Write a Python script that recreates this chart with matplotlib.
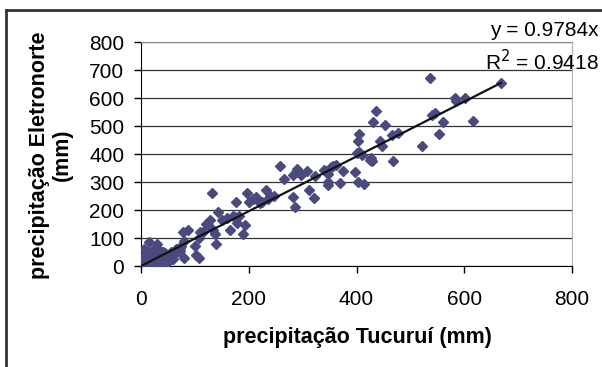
import matplotlib.pyplot as plt
from matplotlib.lines import Line2D
import numpy as np

# Tucurui (x) vs Eletronorte (y) precipitation, mm
tucurui = [
    537, 668, 583, 585, 601, 617, 560, 545, 540, 553, 522,
    437, 430, 453, 466, 477, 443, 447, 467, 427, 428, 425,
    405, 403, 400, 405, 410, 397, 402, 414, 375, 370, 362,
    352, 356, 345, 340, 348, 347, 348, 323, 322, 311, 308,
    297, 290, 287, 283, 283, 286, 265, 258, 247, 240, 235,
    232, 225, 220, 213, 207, 200, 197, 193, 189, 182, 175,
    170, 176, 178, 166, 160, 150, 143, 140, 138, 133, 131,
    128, 125, 120, 115, 110, 108, 107, 103, 100, 88, 80,
    78, 80, 72, 70, 65,
    5, 15, 25, 30, 20, 35, 10, 0, 3, 8, 12, 18, 22, 28,
    32, 38, 40, 45, 50, 55, 60, 55, 48, 42, 35, 25, 15, 5,
    2, 10, 20, 27, 30, 33, 37, 45, 52, 58, 62, 65, 68, 75,
    72, 60, 50, 40, 30, 25, 20, 15, 8, 12, 18, 24, 28, 33,
]
eletronorte = [
    672, 652, 600, 590, 600, 518, 513, 548, 540, 470, 430,
    555, 513, 505, 468, 475, 445, 428, 375, 385, 375, 380,
    470, 447, 405, 408, 395, 335, 300, 292, 340, 297, 360,
    355, 358, 340, 342, 330, 300, 290, 320, 242, 272, 340,
    325, 345, 335, 325, 247, 210, 310, 358, 250, 250, 240,
    270, 230, 225, 245, 238, 230, 260, 145, 113, 180, 175,
    180, 230, 155, 130, 170, 165, 192, 80, 115, 130, 262,
    165, 145, 150, 120, 120, 100, 28, 40, 72, 128, 90,
    122, 30, 65, 55, 60,
    60, 85, 50, 80, 40, 55, 20, 0, 5, 10, 25, 30, 15, 35,
    20, 45, 10, 30, 40, 25, 45, 50, 20, 35, 15, 5, 10, 15,
    30, 40, 55, 60, 65, 50, 25, 45, 30, 35, 40, 50, 60, 70,
    55, 25, 15, 50, 30, 25, 20, 5, 3, 50, 45, 35, 10, 5,
]
slope = 0.9784
r2 = 0.9418

W, H = 602, 367
fig = plt.figure(figsize=(W / 100, H / 100), dpi=100)
plt.rcParams['font.family'] = ['Liberation Sans', 'DejaVu Sans']

ax = fig.add_axes([141 / W, 1 - 266 / H, 431 / W, 224 / H])

ax.plot(tucurui, eletronorte, linestyle='none', marker='D', ms=5,
        color='#4b4a7e', zorder=3)

xs = np.array([0, max(tucurui)])
ax.plot(xs, slope * xs, color='#111111', lw=1.6, zorder=4)

ax.set_xlim(0, 800)
ax.set_ylim(0, 800)
ax.set_xticks(range(0, 801, 200))
ax.set_yticks(range(0, 801, 100))
ax.yaxis.grid(True, color='#333333', lw=0.9)
ax.set_axisbelow(True)
ax.tick_params(labelsize=15, direction='out', length=5, width=1, color='black')
ax.tick_params(axis='x', pad=12)
ax.tick_params(axis='y', pad=7)

ax.spines['left'].set_color('black')
ax.spines['bottom'].set_color('black')
ax.spines['top'].set_color('#888888')
ax.spines['right'].set_color('#b0b0b0')

fig.text(357 / W, 1 - 338 / H, 'precipitação Tucuruí (mm)', fontsize=15.5,
         fontweight='bold', ha='center', va='center')
fig.text(51 / W, 1 - 155 / H, 'precipitação Eletronorte\n(mm)', fontsize=15.5,
         fontweight='bold', ha='center', va='center', rotation=90,
         linespacing=1.15, multialignment='center')

fig.text(599 / W, 1 - 30 / H, f'y = {slope}x', fontsize=15,
         ha='right', va='center')
fig.text(599 / W, 1 - 62 / H, f'R$^2$ = {r2}', fontsize=15,
         ha='right', va='center')

# outer chart frame
fig.add_artist(Line2D([6 / W, 1], [1 - 10 / H, 1 - 10 / H],
                      color='#333333', lw=2))
fig.add_artist(Line2D([6 / W, 6 / W], [0, 1 - 10 / H],
                      color='#333333', lw=2))

fig.savefig('out.png', dpi=100)
